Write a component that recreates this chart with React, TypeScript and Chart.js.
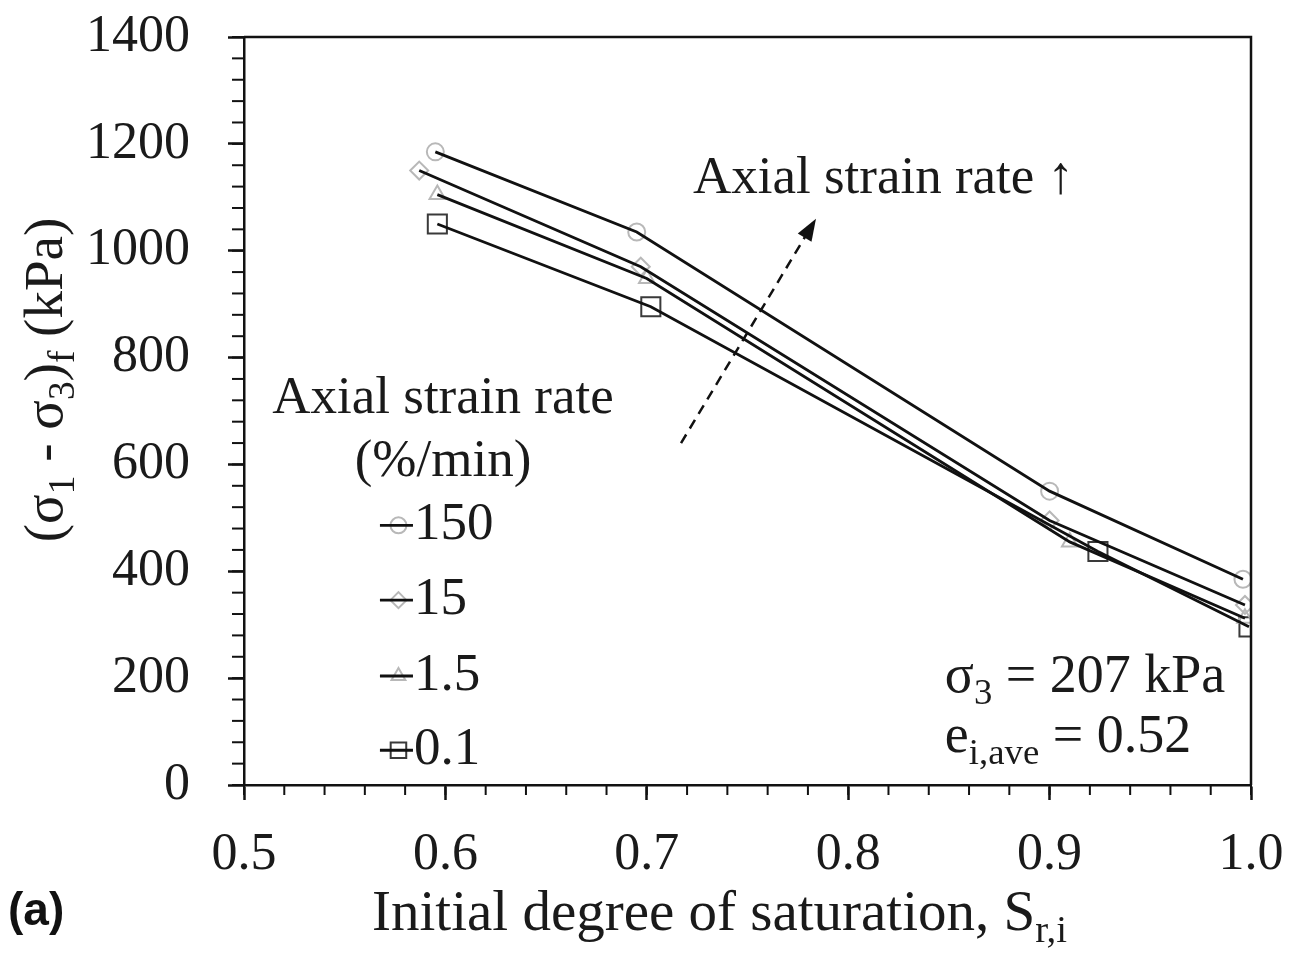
import React, { useEffect, useRef } from 'react';
import { Chart, registerables } from 'chart.js';
import { drawPoint } from 'chart.js/helpers';

Chart.register(...registerables);

const FONT = '"Liberation Serif", "Times New Roman", Times, serif';

// ---- data ----
const seriesNames = ['150', '15', '1.5', '0.1'];
const satX150 = [0.595, 0.695, 0.9, 0.996];
const devY150 = [1185, 1035, 550, 385];
const satX15 = [0.587, 0.697, 0.9, 0.997];
const devY15 = [1150, 970, 495, 337];
const satX1_5 = [0.596, 0.7, 0.91, 0.997];
const devY1_5 = [1105, 948, 455, 312];
const satX0_1 = [0.596, 0.702, 0.924, 0.999];
const devY0_1 = [1050, 895, 437, 296];

const xTicks = [0.5, 0.6, 0.7, 0.8, 0.9, 1.0];
const yTicks = [0, 200, 400, 600, 800, 1000, 1200, 1400];

const seriesX = [satX150, satX15, satX1_5, satX0_1];
const seriesY = [devY150, devY15, devY1_5, devY0_1];
const pointStyles = ['circle', 'rectRot', 'triangle', 'rect'];
const markerColors = ['#b8b8b8', '#b8b8b8', '#b8b8b8', '#3a3a3a'];
const markerRadius = [8.5, 9, 9, 13.5];

type Part = { t: string; sub?: boolean };

function richWidth(ctx: CanvasRenderingContext2D, parts: Part[], size: number) {
  let w = 0;
  for (const p of parts) {
    ctx.font = `${p.sub ? size * 0.68 : size}px ${FONT}`;
    w += ctx.measureText(p.t).width;
  }
  return w;
}

function drawRich(ctx: CanvasRenderingContext2D, parts: Part[], x: number, y: number, size: number, align: 'left' | 'center' = 'left') {
  let cx = x;
  if (align === 'center') cx = x - richWidth(ctx, parts, size) / 2;
  ctx.textAlign = 'left';
  ctx.textBaseline = 'middle';
  for (const p of parts) {
    ctx.font = `${p.sub ? size * 0.68 : size}px ${FONT}`;
    ctx.fillText(p.t, cx, y + (p.sub ? size * 0.3 : 0));
    cx += ctx.measureText(p.t).width;
  }
}

const decorPlugin = {
  id: 'decor',
  afterDraw(chart: any) {
    const { ctx, chartArea: ca, scales } = chart;
    const xs = scales.x;
    const ys = scales.y;
    const px = (v: number) => xs.getPixelForValue(v);
    const py = (v: number) => ys.getPixelForValue(v);
    ctx.save();
    ctx.strokeStyle = '#111';
    ctx.fillStyle = '#1a1a1a';
    ctx.lineWidth = 2.5;
    // frame top/right
    ctx.beginPath();
    ctx.moveTo(ca.left, ca.top);
    ctx.lineTo(ca.right, ca.top);
    ctx.lineTo(ca.right, ca.bottom);
    ctx.stroke();
    // minor ticks
    ctx.lineWidth = 2;
    for (let i = 0; i <= 25; i++) {
      const x = px(0.5 + i * 0.02);
      ctx.beginPath();
      ctx.moveTo(x, ca.bottom);
      ctx.lineTo(x, ca.bottom + 10);
      ctx.stroke();
    }
    for (let i = 0; i <= 35; i++) {
      const y = py(i * 40);
      ctx.beginPath();
      ctx.moveTo(ca.left - 12, y);
      ctx.lineTo(ca.left, y);
      ctx.stroke();
    }

    // legend
    ctx.fillStyle = '#1a1a1a';
    drawRich(ctx, [{ t: 'Axial strain rate' }], px(0.5988), py(723), 53, 'center');
    drawRich(ctx, [{ t: '(%/min)' }], px(0.5988), py(604), 53, 'center');
    const legY = [486, 346, 204, 65];
    for (let i = 0; i < 4; i++) {
      const y = py(legY[i]);
      const x0 = px(0.5675);
      const x1 = px(0.5839);
      ctx.strokeStyle = markerColors[i];
      ctx.fillStyle = 'rgba(0,0,0,0)';
      ctx.lineWidth = 2;
      drawPoint(ctx, { pointStyle: pointStyles[i] as any, radius: i === 3 ? 11 : 8, rotation: 0, borderWidth: 2 }, (x0 + x1) / 2 + 2, y);
      ctx.strokeStyle = '#111';
      ctx.lineWidth = 2.8;
      ctx.beginPath();
      ctx.moveTo(x0, y);
      ctx.lineTo(x1, y);
      ctx.stroke();
      ctx.fillStyle = '#1a1a1a';
      drawRich(ctx, [{ t: seriesNames[i] }], x1 + 1, y, 53);
    }

    // top annotation
    drawRich(ctx, [{ t: 'Axial strain rate \u2191' }], px(0.7229), py(1135), 53);

    // dashed arrow
    const ax0 = px(0.717), ay0 = py(640), ax1 = px(0.784), ay1 = py(1060);
    const ang = Math.atan2(ay1 - ay0, ax1 - ax0);
    const headLen = 22;
    ctx.strokeStyle = '#111';
    ctx.lineWidth = 2.5;
    ctx.setLineDash([10, 7]);
    ctx.beginPath();
    ctx.moveTo(ax0, ay0);
    ctx.lineTo(ax1 - Math.cos(ang) * headLen * 0.8, ay1 - Math.sin(ang) * headLen * 0.8);
    ctx.stroke();
    ctx.setLineDash([]);
    ctx.fillStyle = '#111';
    ctx.beginPath();
    ctx.moveTo(ax1, ay1);
    ctx.lineTo(ax1 - headLen * Math.cos(ang) + 8 * Math.sin(ang), ay1 - headLen * Math.sin(ang) - 8 * Math.cos(ang));
    ctx.lineTo(ax1 - headLen * Math.cos(ang) - 8 * Math.sin(ang), ay1 - headLen * Math.sin(ang) + 8 * Math.cos(ang));
    ctx.closePath();
    ctx.fill();

    // conditions text
    ctx.fillStyle = '#1a1a1a';
    drawRich(ctx, [{ t: '\u03c3' }, { t: '3', sub: true }, { t: ' = 207 kPa' }], px(0.848), py(200), 54);
    drawRich(ctx, [{ t: 'e' }, { t: 'i,ave', sub: true }, { t: ' = 0.52' }], px(0.848), py(88), 54);

    // x axis title
    drawRich(ctx, [{ t: 'Initial degree of saturation, S' }, { t: 'r,i', sub: true }], 372, 915, 57, 'left');

    // y axis title (rotated)
    ctx.save();
    ctx.translate(48, 380);
    ctx.rotate(-Math.PI / 2);
    drawRich(
      ctx,
      [
        { t: '(\u03c3' },
        { t: '1', sub: true },
        { t: ' - \u03c3' },
        { t: '3', sub: true },
        { t: ')' },
        { t: 'f', sub: true },
        { t: ' (kPa)' },
      ],
      0,
      0,
      55,
      'center'
    );
    ctx.restore();

    // panel label
    ctx.font = `bold 46px "Liberation Sans", Arial, sans-serif`;
    ctx.textAlign = 'left';
    ctx.textBaseline = 'middle';
    ctx.fillStyle = '#111';
    ctx.fillText('(a)', 8, 912);
    ctx.restore();
  },
};

export default function App() {
  const ref = useRef<HTMLCanvasElement>(null);
  useEffect(() => {
    if (!ref.current) return;
    const datasets: any[] = [];
    for (let i = 0; i < 4; i++) {
      const pts = seriesX[i].map((x, j) => ({ x, y: seriesY[i][j] }));
      datasets.push({
        label: seriesNames[i],
        data: pts,
        showLine: true,
        borderColor: '#111',
        borderWidth: 2.8,
        pointRadius: 0,
        tension: 0,
        order: 1,
      });
      datasets.push({
        label: seriesNames[i] + ' markers',
        data: pts,
        showLine: false,
        pointStyle: pointStyles[i],
        pointRadius: markerRadius[i],
        pointBorderColor: markerColors[i],
        pointBackgroundColor: 'rgba(0,0,0,0)',
        pointBorderWidth: 2,
        order: 2,
      });
    }
    const chart = new Chart(ref.current, {
      type: 'scatter',
      data: { datasets },
      options: {
        responsive: false,
        animation: false,
        devicePixelRatio: 1,
        layout: { padding: { top: 37, right: 40, left: 0, bottom: 0 } },
        plugins: { legend: { display: false }, tooltip: { enabled: false } },
        scales: {
          x: {
            type: 'linear',
            min: 0.5,
            max: 1.0,
            afterBuildTicks: (s: any) => {
              s.ticks = xTicks.map((v) => ({ value: v }));
            },
            afterFit: (s: any) => {
              s.height = 168;
              s.paddingLeft = 0;
              s.paddingRight = 0;
              s.paddingTop = 0;
              s.paddingBottom = 0;
            },
            ticks: {
              callback: (v: any) => Number(v).toFixed(1),
              font: { family: FONT, size: 52 },
              color: '#1a1a1a',
              padding: 24,
              maxRotation: 0,
              autoSkip: false,
            },
            grid: { drawOnChartArea: false, drawTicks: true, tickLength: 15, tickWidth: 2.5, tickColor: '#111' },
            border: { display: true, color: '#111', width: 2.5 },
          },
          y: {
            type: 'linear',
            min: 0,
            max: 1400,
            afterBuildTicks: (s: any) => {
              s.ticks = yTicks.map((v) => ({ value: v }));
            },
            afterFit: (s: any) => {
              s.width = 244;
              s.paddingLeft = 0;
              s.paddingRight = 0;
              s.paddingTop = 0;
              s.paddingBottom = 0;
            },
            ticks: {
              callback: (v: any) => String(v),
              font: { family: FONT, size: 52 },
              color: '#1a1a1a',
              padding: 38,
              autoSkip: false,
            },
            grid: { drawOnChartArea: false, drawTicks: true, tickLength: 16, tickWidth: 2.5, tickColor: '#111' },
            border: { display: true, color: '#111', width: 2.5 },
          },
        },
      },
      plugins: [decorPlugin],
    } as any);
    return () => chart.destroy();
  }, []);
  return (
    <div style={{ position: 'absolute', left: 0, top: 0, width: 1291, height: 953, background: '#fff' }}>
      <canvas ref={ref} width={1291} height={953} style={{ display: 'block' }} />
    </div>
  );
}
